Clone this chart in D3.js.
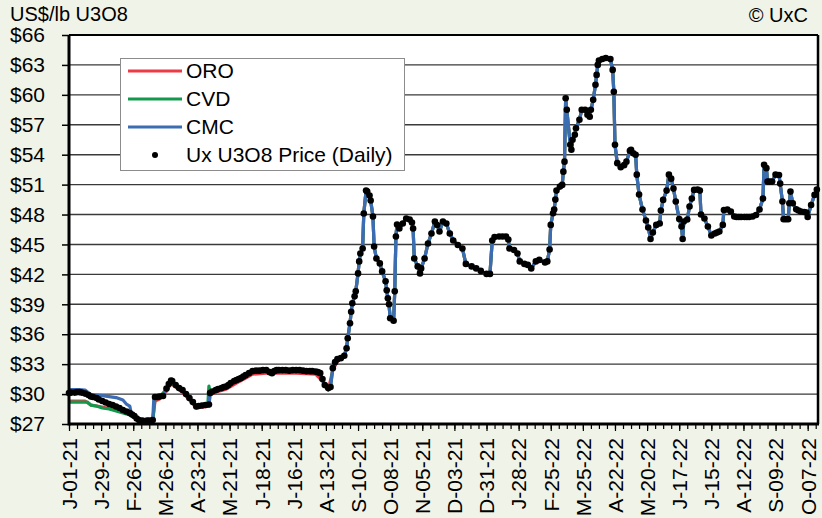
<!DOCTYPE html>
<html>
<head>
<meta charset="utf-8">
<script src="https://d3js.org/d3.v7.min.js"></script>
<style>
  body { margin: 0; background: #f0f3e8; }
  svg { display: block; font-family: "Liberation Sans", Arial, sans-serif; }
</style>
</head>
<body>
<div id="chart"></div>
<script>
// ---- data ----
var yTicks = [27, 30, 33, 36, 39, 42, 45, 48, 51, 54, 57, 60, 63, 66];

var xTickDates = ["2021-01-01","2021-01-29","2021-02-26","2021-03-26","2021-04-23","2021-05-21",
  "2021-06-18","2021-07-16","2021-08-13","2021-09-10","2021-10-08","2021-11-05","2021-12-03",
  "2021-12-31","2022-01-28","2022-02-25","2022-03-25","2022-04-22","2022-05-20","2022-06-17",
  "2022-07-15","2022-08-12","2022-09-09","2022-10-07"];
var xTickLabels = ["J-01-21","J-29-21","F-26-21","M-26-21","A-23-21","M-21-21","J-18-21","J-16-21",
  "A-13-21","S-10-21","O-08-21","N-05-21","D-03-21","D-31-21","J-28-22","F-25-22","M-25-22",
  "A-22-22","M-20-22","J-17-22","J-15-22","A-12-22","S-09-22","O-07-22"];

var seriesNames = ["ORO", "CVD", "CMC", "Ux U3O8 Price (Daily)"];
var seriesColors = ["#ee3a46", "#12994c", "#3c6cb2", "#000000"];

// Ux U3O8 daily price (dots)
var uxDaily = [
["2021-01-01",30.1],["2021-01-03",30.15],["2021-01-06",30.15],["2021-01-08",30.2],["2021-01-10",30.2],
["2021-01-12",30.15],["2021-01-15",30.05],["2021-01-18",29.9],["2021-01-20",29.75],["2021-01-22",29.7],
["2021-01-25",29.6],["2021-01-27",29.45],["2021-01-30",29.3],["2021-02-02",29.15],["2021-02-05",29.0],
["2021-02-08",28.9],["2021-02-11",28.75],["2021-02-14",28.6],["2021-02-17",28.4],["2021-02-20",28.25],
["2021-02-23",28.1],["2021-02-25",27.95],["2021-02-27",27.8],["2021-03-01",27.55],["2021-03-03",27.4],
["2021-03-06",27.35],["2021-03-10",27.35],["2021-03-12",27.35],["2021-03-15",27.4],
["2021-03-17",29.7],["2021-03-19",29.7],["2021-03-21",29.75],["2021-03-24",29.8],["2021-03-27",30.55],
["2021-03-29",31.0],["2021-03-31",31.35],["2021-04-01",31.3],["2021-04-04",30.9],["2021-04-07",30.6],
["2021-04-10",30.4],["2021-04-13",30.0],["2021-04-16",29.6],["2021-04-19",29.2],["2021-04-22",28.75],
["2021-04-24",28.8],["2021-04-27",28.85],["2021-04-30",28.9],["2021-05-03",28.95],["2021-05-04",30.1],
["2021-05-06",30.25],["2021-05-09",30.4],["2021-05-11",30.5],["2021-05-14",30.6],["2021-05-16",30.7],
["2021-05-18",30.75],["2021-05-20",30.9],["2021-05-22",31.1],["2021-05-25",31.3],["2021-05-27",31.4],
["2021-05-29",31.5],["2021-05-31",31.6],["2021-06-02",31.75],["2021-06-04",31.9],["2021-06-07",32.1],
["2021-06-10",32.3],["2021-06-13",32.35],["2021-06-16",32.35],["2021-06-19",32.4],["2021-06-22",32.4],
["2021-06-25",32.2],["2021-06-27",32.1],["2021-06-29",32.3],["2021-07-01",32.4],["2021-07-03",32.4],
["2021-07-06",32.4],["2021-07-09",32.4],["2021-07-12",32.35],["2021-07-15",32.4],["2021-07-18",32.4],
["2021-07-21",32.4],["2021-07-24",32.35],["2021-07-27",32.3],["2021-07-30",32.3],["2021-08-01",32.3],
["2021-08-04",32.25],["2021-08-06",32.2],
["2021-08-08",32.1],["2021-08-10",31.5],["2021-08-12",30.9],["2021-08-15",30.6],["2021-08-17",30.7],
["2021-08-19",32.6],["2021-08-21",33.2],["2021-08-23",33.5],["2021-08-26",33.6],["2021-08-29",33.85],
["2021-08-31",34.6],["2021-09-01",35.6],["2021-09-03",37.1],["2021-09-04",38.25],["2021-09-05",39.1],
["2021-09-07",39.8],["2021-09-08",40.3],["2021-09-10",42.1],["2021-09-11",43.3],["2021-09-12",44.1],
["2021-09-14",44.6],["2021-09-15",48.1],["2021-09-17",50.4],["2021-09-18",50.3],["2021-09-20",49.9],
["2021-09-21",49.4],["2021-09-23",47.8],["2021-09-24",44.8],["2021-09-26",43.6],["2021-09-29",43.1],
["2021-10-01",42.3],["2021-10-04",41.3],["2021-10-05",40.4],["2021-10-06",39.6],["2021-10-07",39.0],
["2021-10-08",37.6],["2021-10-11",37.35],["2021-10-12",40.3],["2021-10-13",45.8],["2021-10-14",47.0],
["2021-10-16",46.6],["2021-10-19",47.1],["2021-10-22",47.6],["2021-10-25",47.5],["2021-10-27",47.2],
["2021-10-28",46.6],["2021-10-29",43.6],["2021-11-01",42.8],["2021-11-03",42.1],["2021-11-04",42.6],
["2021-11-07",43.6],["2021-11-10",45.1],["2021-11-13",46.1],["2021-11-16",47.3],["2021-11-18",46.95],
["2021-11-20",46.3],["2021-11-23",47.3],["2021-11-26",47.1],["2021-11-29",46.1],["2021-12-02",45.4],
["2021-12-06",44.95],["2021-12-10",44.6],["2021-12-13",43.05],["2021-12-18",42.8],["2021-12-22",42.6],
["2021-12-26",42.35],["2021-12-31",42.05],["2022-01-03",42.05],["2022-01-05",45.4],["2022-01-07",45.75],
["2022-01-11",45.8],["2022-01-14",45.8],["2022-01-17",45.8],["2022-01-19",45.5],["2022-01-20",44.6],
["2022-01-24",44.45],["2022-01-27",44.1],["2022-01-29",43.3],["2022-02-02",43.05],["2022-02-05",42.95],
["2022-02-08",42.6],["2022-02-12",43.3],["2022-02-15",43.45],["2022-02-20",43.2],["2022-02-22",43.3],
["2022-02-24",44.5],
["2022-02-25",46.96],["2022-02-27",48.13],["2022-02-28",48.5],["2022-03-01",49.5],["2022-03-02",50.4],
["2022-03-05",50.8],["2022-03-07",50.97],["2022-03-08",52.3],["2022-03-09",53.3],["2022-03-10",59.66],
["2022-03-11",58.5],["2022-03-14",55.0],["2022-03-15",54.5],["2022-03-16",55.5],["2022-03-18",56.0],
["2022-03-19",56.65],["2022-03-22",57.5],["2022-03-24",58.5],["2022-03-27",58.5],["2022-03-29",58.0],
["2022-03-31",57.8],["2022-04-01",58.5],["2022-04-03",59.5],["2022-04-05",61.0],["2022-04-06",62.0],
["2022-04-07",63.0],["2022-04-08",63.45],["2022-04-11",63.6],["2022-04-14",63.7],["2022-04-18",63.6],
["2022-04-20",62.5],["2022-04-21",60.3],["2022-04-22",55.0],["2022-04-24",53.15],["2022-04-27",52.75],
["2022-04-30",52.95],["2022-05-02",53.3],["2022-05-05",54.4],["2022-05-06",54.5],["2022-05-08",54.15],
["2022-05-10",54.0],["2022-05-11",52.0],["2022-05-13",50.0],["2022-05-16",48.5],["2022-05-19",47.4],
["2022-05-21",46.7],["2022-05-23",45.55],["2022-05-25",46.2],["2022-05-28",46.96],["2022-05-31",47.1],
["2022-06-01",48.4],["2022-06-03",49.47],["2022-06-06",50.4],["2022-06-08",52.0],["2022-06-10",51.6],
["2022-06-12",50.6],["2022-06-14",49.3],["2022-06-17",47.55],["2022-06-19",46.8],["2022-06-20",45.55],
["2022-06-21",47.3],["2022-06-24",47.5],["2022-06-26",48.8],["2022-06-28",49.6],["2022-06-30",50.47],
["2022-07-03",50.5],["2022-07-05",50.4],["2022-07-06",48.0],["2022-07-09",47.6],["2022-07-12",46.8],
["2022-07-15",45.9],["2022-07-18",46.1],["2022-07-20",46.2],["2022-07-22",46.3],["2022-07-25",46.96],
["2022-07-26",48.46],["2022-07-29",48.5],["2022-08-01",48.3],["2022-08-04",47.8],["2022-08-06",47.75],
["2022-08-08",47.75],["2022-08-10",47.75],["2022-08-13",47.75],["2022-08-15",47.75],["2022-08-17",47.75],
["2022-08-20",47.8],["2022-08-23",47.96],["2022-08-26",48.5],["2022-08-29",49.6],
["2022-08-30",52.98],["2022-09-01",52.65],["2022-09-02",51.3],["2022-09-04",51.3],["2022-09-06",51.3],
["2022-09-09",52.0],["2022-09-12",51.97],["2022-09-13",51.1],["2022-09-15",49.3],["2022-09-16",47.53],
["2022-09-18",47.53],["2022-09-20",47.53],["2022-09-21",49.13],["2022-09-22",50.3],["2022-09-24",49.13],
["2022-09-27",48.53],["2022-09-29",48.4],["2022-10-01",48.3],["2022-10-04",48.25],["2022-10-06",48.2],
["2022-10-07",47.75],["2022-10-10",48.96],["2022-10-13",49.97],["2022-10-15",50.5]
];

// early part of each indicator where it differs from the daily price;
// after that the indicators run on top of the daily price
var oroEarly = [
["2021-01-01",29.3],["2021-01-15",29.3],["2021-01-20",28.9],["2021-01-30",28.7],["2021-02-11",28.4],
["2021-02-17",28.2],["2021-02-23",28.0],["2021-02-27",27.7],["2021-03-03",27.4],["2021-03-15",27.35],
["2021-03-17",29.3],["2021-03-21",29.5],["2021-03-27",30.3],["2021-03-31",31.1],["2021-04-04",30.7],
["2021-04-10",30.2],["2021-04-16",29.4],["2021-04-22",28.6],["2021-04-27",28.7],["2021-05-03",28.8],
["2021-05-04",29.9],["2021-05-09",30.2],["2021-05-18",30.5],["2021-05-27",31.1],["2021-06-04",31.6],
["2021-06-10",32.0],["2021-06-22",32.1],["2021-07-01",32.1],["2021-07-18",32.1],["2021-08-04",32.0],
["2021-08-10",31.3],["2021-08-15",30.4],["2021-08-19",32.4],["2021-08-23",33.3]
];
var cvdEarly = [
["2021-01-01",29.2],["2021-01-17",29.2],["2021-01-20",28.9],["2021-01-25",28.8],["2021-01-30",28.6],
["2021-02-05",28.5],["2021-02-11",28.3],["2021-02-17",28.1],["2021-02-23",27.9],["2021-02-27",27.7],
["2021-03-03",27.4],["2021-03-15",27.35],["2021-03-17",29.6],["2021-03-21",29.7],["2021-03-27",30.5],
["2021-03-31",31.3],["2021-04-04",30.85],["2021-04-10",30.35],["2021-04-16",29.55],["2021-04-22",28.7],
["2021-04-27",28.8],["2021-05-02",28.9],["2021-05-03",30.8]
];
var cmcEarly = [
["2021-01-01",30.45],["2021-01-10",30.45],["2021-01-15",30.4],["2021-01-20",29.95],["2021-01-30",29.85],
["2021-02-11",29.65],["2021-02-17",29.4],["2021-02-20",29.0],["2021-02-23",28.8],["2021-02-24",28.2],
["2021-02-27",27.8],["2021-03-03",27.4],["2021-03-15",27.4],["2021-03-16",29.7]
];

// ---- layout ----
var svgWidth = 822;
var svgHeight = 518;
var margin = { top: 35, right: 4, bottom: 94, left: 69 };
var chartWidth = svgWidth - margin.left - margin.right;
var chartHeight = svgHeight - margin.top - margin.bottom;

var parseDate = d3.timeParse("%Y-%m-%d");

function toPoints(arr) {
  return arr.map(d => ({ date: parseDate(d[0]), value: d[1] }));
}
var ux = toPoints(uxDaily);
function withTail(early) {
  var pts = toPoints(early);
  var last = pts[pts.length - 1].date;
  return pts.concat(ux.filter(d => d.date > last));
}
var lines = [withTail(oroEarly), withTail(cvdEarly), withTail(cmcEarly)];

var svg = d3.select("#chart").append("svg")
  .attr("width", svgWidth)
  .attr("height", svgHeight);

svg.append("rect").attr("width", svgWidth).attr("height", svgHeight).attr("fill", "#f0f3e8");

svg.append("text").attr("x", 10).attr("y", 21)
  .style("font-size", "20px").text("US$/lb U3O8");
svg.append("text").attr("x", 808).attr("y", 22)
  .attr("text-anchor", "end").style("font-size", "20px").text("\u00a9 UxC");

var chartGroup = svg.append("g")
  .attr("transform", `translate(${margin.left},${margin.top})`);

chartGroup.append("rect")
  .attr("width", chartWidth).attr("height", chartHeight).attr("fill", "#ffffff");

var xTimeScale = d3.scaleTime()
  .domain([parseDate("2021-01-01"), parseDate("2022-10-16")])
  .range([0, chartWidth]);
var yLinearScale = d3.scaleLinear()
  .domain([27, 66])
  .range([chartHeight, 0]);

// gridlines
chartGroup.append("g").selectAll("line")
  .data(yTicks.slice(1, -1))
  .enter().append("line")
  .attr("x1", 0).attr("x2", chartWidth)
  .attr("y1", d => yLinearScale(d)).attr("y2", d => yLinearScale(d))
  .attr("stroke", "#3a3a3a").attr("stroke-width", 1.4);

// indicator lines
var line = d3.line()
  .x(d => xTimeScale(d.date))
  .y(d => yLinearScale(d.value));

chartGroup.selectAll("path.series")
  .data(lines)
  .enter().append("path")
  .attr("class", "series")
  .attr("d", line)
  .attr("fill", "none")
  .attr("stroke", (d, i) => seriesColors[i])
  .attr("stroke-width", 3.2)
  .attr("stroke-linejoin", "round");

// daily price dots
chartGroup.append("g").selectAll("circle")
  .data(ux)
  .enter().append("circle")
  .attr("cx", d => xTimeScale(d.date))
  .attr("cy", d => yLinearScale(d.value))
  .attr("r", 3.3)
  .attr("fill", "#000");

// plot frame
chartGroup.append("line").attr("x1", 0).attr("x2", chartWidth).attr("y1", 0).attr("y2", 0)
  .attr("stroke", "#000").attr("stroke-width", 2);
chartGroup.append("line").attr("x1", chartWidth).attr("x2", chartWidth).attr("y1", 0).attr("y2", chartHeight)
  .attr("stroke", "#000").attr("stroke-width", 2.5);

// y axis
var leftAxis = d3.axisLeft(yLinearScale)
  .tickValues(yTicks)
  .tickSize(7)
  .tickPadding(17)
  .tickFormat(d => "$" + d);
var yAxis = chartGroup.append("g").call(leftAxis);
yAxis.select(".domain").remove();
yAxis.selectAll("line").attr("stroke", "#000").attr("stroke-width", 1.5);
yAxis.selectAll("text").style("font-size", "21px").style("font-family", "Liberation Sans, Arial, sans-serif").attr("fill", "#000");

// x axis: weekly minor ticks
var fridays = d3.timeFriday.range(parseDate("2021-01-01"), parseDate("2022-10-16"));
var minorAxis = d3.axisBottom(xTimeScale).tickValues(fridays).tickSize(5).tickFormat("");
var xMinor = chartGroup.append("g")
  .attr("transform", `translate(0, ${chartHeight})`)
  .call(minorAxis);
xMinor.select(".domain").remove();
xMinor.selectAll("line").attr("stroke", "#000").attr("stroke-width", 1.2);

var bottomAxis = d3.axisBottom(xTimeScale)
  .tickValues(xTickDates.map(parseDate))
  .tickSize(7)
  .tickFormat((d, i) => xTickLabels[i]);
var xAxis = chartGroup.append("g")
  .attr("transform", `translate(0, ${chartHeight})`)
  .call(bottomAxis);
xAxis.select(".domain").remove();
xAxis.selectAll("line").attr("stroke", "#000").attr("stroke-width", 1.2);
xAxis.selectAll("text")
  .attr("transform", "rotate(-90)")
  .attr("text-anchor", "end")
  .attr("x", -14)
  .attr("y", 0)
  .attr("dy", "0.35em")
  .attr("fill", "#000")
  .style("font-size", "21px")
  .style("font-family", "Liberation Sans, Arial, sans-serif");

// thick left and bottom axis lines
chartGroup.append("line").attr("x1", 0).attr("x2", 0).attr("y1", 0).attr("y2", chartHeight + 1.5)
  .attr("stroke", "#000").attr("stroke-width", 3);
chartGroup.append("line").attr("x1", 0).attr("x2", chartWidth + 1).attr("y1", chartHeight).attr("y2", chartHeight)
  .attr("stroke", "#000").attr("stroke-width", 3);

// legend
var legend = svg.append("g").attr("transform", "translate(120,58)");
legend.append("rect")
  .attr("x", 0.5).attr("y", 0.5).attr("width", 284).attr("height", 112)
  .attr("fill", "#fff").attr("stroke", "#8c8c8c").attr("stroke-width", 1);

var items = legend.selectAll("g.item")
  .data(seriesNames)
  .enter().append("g")
  .attr("class", "item")
  .attr("transform", (d, i) => `translate(0, ${13 + i * 28})`);

items.filter((d, i) => i < 3).append("line")
  .attr("x1", 8).attr("x2", 62).attr("y1", 0).attr("y2", 0)
  .attr("stroke", (d, i) => seriesColors[i]).attr("stroke-width", 3.2);
items.filter((d, i) => i === 3).append("circle")
  .attr("cx", 35).attr("cy", 0).attr("r", 3).attr("fill", "#000");
items.append("text")
  .attr("x", 66).attr("y", 0).attr("dy", "0.35em")
  .style("font-size", "21px")
  .text(d => d);
</script>
</body>
</html>
